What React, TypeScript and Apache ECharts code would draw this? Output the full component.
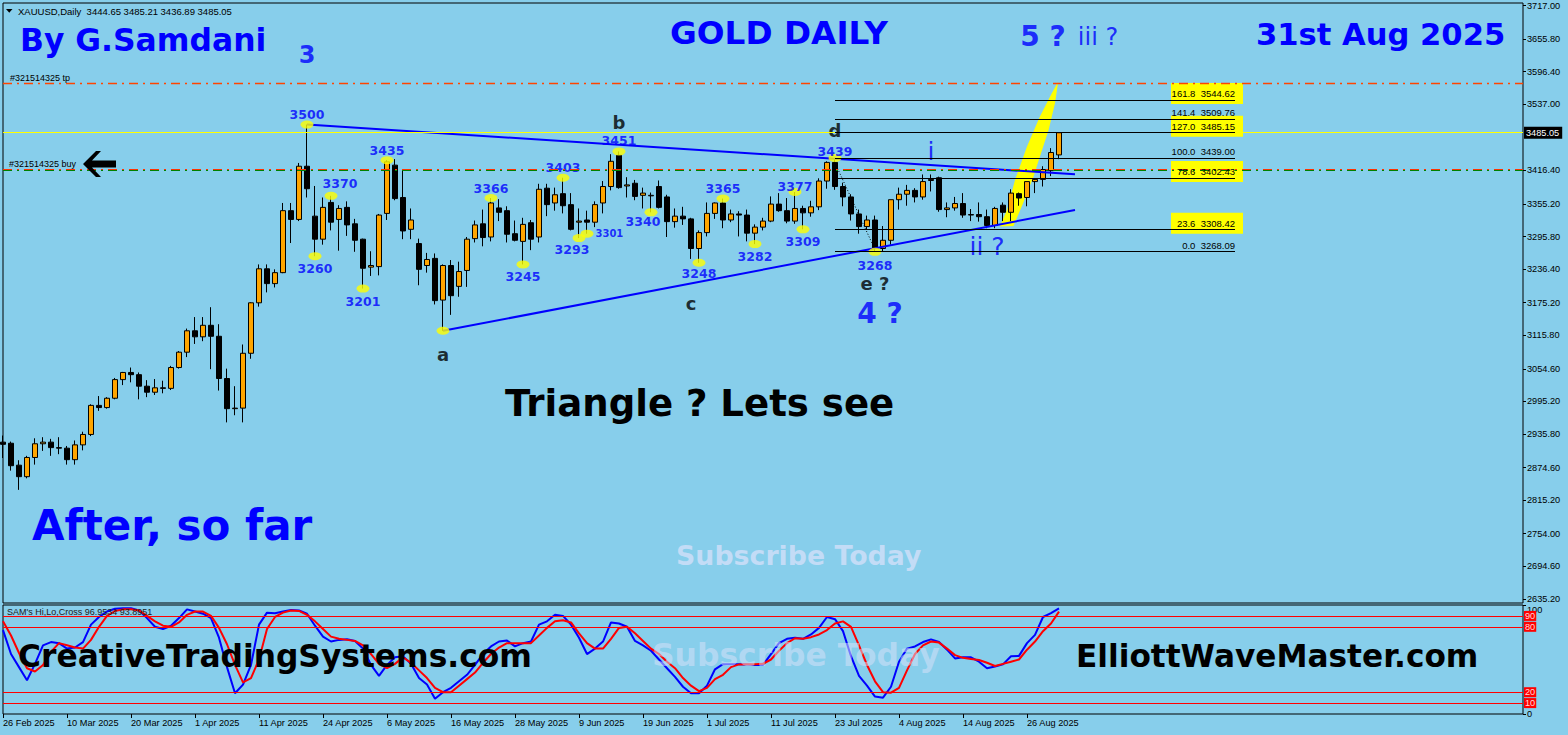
import React, { useEffect, useRef } from "react";
import * as echarts from "echarts";

// ---------- DATA ----------
const dates: string[] = [
  "26 Feb 2025","27 Feb 2025","28 Feb 2025","3 Mar 2025","4 Mar 2025","5 Mar 2025","6 Mar 2025","7 Mar 2025",
  "10 Mar 2025","11 Mar 2025","12 Mar 2025","13 Mar 2025","14 Mar 2025","17 Mar 2025","18 Mar 2025","19 Mar 2025",
  "20 Mar 2025","21 Mar 2025","24 Mar 2025","25 Mar 2025","26 Mar 2025","27 Mar 2025","28 Mar 2025","31 Mar 2025",
  "1 Apr 2025","2 Apr 2025","3 Apr 2025","4 Apr 2025","7 Apr 2025","8 Apr 2025","9 Apr 2025","10 Apr 2025",
  "11 Apr 2025","14 Apr 2025","15 Apr 2025","16 Apr 2025","17 Apr 2025","21 Apr 2025","22 Apr 2025","23 Apr 2025",
  "24 Apr 2025","25 Apr 2025","28 Apr 2025","29 Apr 2025","30 Apr 2025","1 May 2025","2 May 2025","5 May 2025",
  "6 May 2025","7 May 2025","8 May 2025","9 May 2025","12 May 2025","13 May 2025","14 May 2025","15 May 2025",
  "16 May 2025","19 May 2025","20 May 2025","21 May 2025","22 May 2025","23 May 2025","26 May 2025","27 May 2025",
  "28 May 2025","29 May 2025","30 May 2025","2 Jun 2025","3 Jun 2025","4 Jun 2025","5 Jun 2025","6 Jun 2025",
  "9 Jun 2025","10 Jun 2025","11 Jun 2025","12 Jun 2025","13 Jun 2025","16 Jun 2025","17 Jun 2025","18 Jun 2025",
  "19 Jun 2025","20 Jun 2025","23 Jun 2025","24 Jun 2025","25 Jun 2025","26 Jun 2025","27 Jun 2025","30 Jun 2025",
  "1 Jul 2025","2 Jul 2025","3 Jul 2025","4 Jul 2025","7 Jul 2025","8 Jul 2025","9 Jul 2025","10 Jul 2025",
  "11 Jul 2025","14 Jul 2025","15 Jul 2025","16 Jul 2025","17 Jul 2025","18 Jul 2025","21 Jul 2025","22 Jul 2025",
  "23 Jul 2025","24 Jul 2025","25 Jul 2025","28 Jul 2025","29 Jul 2025","30 Jul 2025","31 Jul 2025","1 Aug 2025",
  "4 Aug 2025","5 Aug 2025","6 Aug 2025","7 Aug 2025","8 Aug 2025","11 Aug 2025","12 Aug 2025","13 Aug 2025",
  "14 Aug 2025","15 Aug 2025","18 Aug 2025","19 Aug 2025","20 Aug 2025","21 Aug 2025","22 Aug 2025","25 Aug 2025",
  "26 Aug 2025","27 Aug 2025","28 Aug 2025","29 Aug 2025","1 Sep 2025",
];

// [open, high, low, close]
const candles: number[][] = [
  [2921,2933,2892,2917],[2919,2922,2869,2878],[2879,2888,2834,2858],[2858,2896,2855,2893],
  [2893,2928,2880,2918],[2918,2930,2905,2921],[2921,2927,2896,2911],[2911,2930,2899,2910],
  [2910,2914,2880,2889],[2889,2924,2880,2916],[2916,2940,2906,2935],[2935,2990,2932,2988],
  [2988,3005,2978,2984],[2984,3003,2982,3001],[3001,3038,2999,3035],[3035,3049,3025,3048],
  [3048,3057,3030,3044],[3044,3048,2999,3023],[3023,3034,3003,3012],[3012,3036,3007,3020],
  [3020,3033,3010,3019],[3019,3060,3016,3057],[3057,3087,3055,3085],[3085,3128,3076,3124],
  [3124,3149,3100,3113],[3113,3149,3105,3134],[3134,3167,3054,3114],[3114,3136,3015,3037],
  [3037,3055,2957,2982],[2982,3023,2970,2983],[2983,3099,2957,3083],[3083,3176,3073,3175],
  [3175,3245,3168,3237],[3237,3245,3194,3210],[3210,3236,3203,3230],[3230,3357,3229,3343],
  [3343,3357,3284,3327],[3327,3430,3324,3424],[3424,3500,3367,3383],[3333,3388,3260,3291],
  [3291,3367,3281,3349],[3358,3370,3307,3322],[3327,3353,3270,3347],[3349,3360,3297,3317],
  [3319,3328,3268,3289],[3291,3292,3201,3238],[3240,3269,3224,3243],[3241,3337,3225,3335],
  [3338,3435,3326,3432],[3426,3437,3362,3365],[3367,3417,3291,3306],[3309,3347,3291,3326],
  [3283,3292,3207,3236],[3243,3266,3230,3254],[3256,3265,3172,3179],[3180,3245,3124,3243],
  [3243,3253,3153,3188],[3205,3250,3186,3232],[3234,3295,3204,3291],[3292,3325,3285,3317],
  [3319,3345,3278,3294],[3295,3366,3287,3357],[3348,3364,3324,3340],[3343,3351,3285,3300],
  [3301,3325,3287,3289],[3287,3330,3245,3318],[3321,3326,3271,3291],[3295,3392,3285,3382],
  [3384,3392,3333,3354],[3357,3385,3343,3372],[3374,3403,3338,3352],[3354,3375,3307,3309],
  [3322,3347,3293,3324],[3326,3343,3301,3322],[3322,3360,3313,3354],[3357,3397,3338,3387],
  [3387,3446,3380,3433],[3444,3451,3383,3385],[3388,3404,3367,3390],[3393,3399,3362,3369],
  [3371,3385,3347,3375],[3370,3376,3340,3371],[3387,3398,3347,3349],[3368,3372,3295,3323],
  [3323,3347,3312,3333],[3333,3350,3317,3328],[3328,3330,3255,3274],[3274,3307,3248,3303],
  [3303,3358,3296,3338],[3338,3358,3328,3357],[3357,3365,3311,3326],[3326,3345,3322,3337],
  [3337,3342,3296,3335],[3335,3345,3287,3302],[3302,3318,3282,3313],[3313,3330,3307,3324],
  [3324,3369,3322,3355],[3355,3375,3341,3343],[3343,3366,3320,3324],[3324,3377,3319,3347],
  [3347,3352,3309,3339],[3339,3361,3332,3350],[3350,3402,3344,3397],[3397,3433,3383,3431],
  [3431,3439,3381,3387],[3387,3394,3351,3368],[3368,3373,3325,3337],[3337,3345,3301,3314],
  [3314,3334,3308,3326],[3326,3334,3268,3274],[3274,3315,3268,3289],[3289,3363,3281,3363],
  [3363,3385,3345,3373],[3373,3390,3352,3380],[3380,3384,3358,3368],[3368,3409,3363,3396],
  [3398,3409,3378,3400],[3403,3405,3341,3345],[3345,3358,3331,3348],[3348,3368,3343,3356],
  [3356,3375,3330,3335],[3335,3346,3324,3336],[3336,3358,3323,3332],[3332,3345,3311,3316],
  [3316,3350,3311,3347],[3353,3358,3324,3340],[3340,3382,3324,3375],[3374,3376,3352,3366],
  [3367,3396,3351,3396],[3396,3402,3375,3400],[3400,3424,3387,3418],[3416,3457,3406,3449],
  [3444.65,3485.21,3436.89,3485.05],
];

const priceTicks: number[] = [3717.0,3655.8,3596.4,3537.0,3416.4,3355.2,3295.8,3236.4,3175.2,3115.8,3054.6,2995.2,2935.8,2874.6,2815.2,2754.0,2694.6,2635.2];

const oscBlue: number[] = [
  77,55,43,31,46,63,66,65,60,61,66,82,89,94,96.5,97,97,95,88,80,78,81,88,96,94,92,88,70,43,19,27,45,82,93,92.5,94,95.5,95,92,81,71,66.5,68,68.5,67,60,45,35,45,52,
  53,46,33,27,14,20,24,30,36,45,55,62,66.5,67.4,62,65,66.5,82,85,91,90,82,70,55,60,66.5,84,83,80,67,63,58,50,42,34,25,19,19,26,41,45.7,45.7,45.7,45.5,45,45,55,65,69,70,
  69,73,79,89,87,76,53,35,26,16,15,25,48,60,62,66,68.5,66,59,51,52,52,48,42,43.5,45.5,53,53.3,65,72.6,89,92.5,96.95,
];
const oscRed: number[] = [
  85,72,56,42,39,45,57,65,63,61,60,68,80,90,94.5,96,96,95,90,85,81,80,84,91,94,94,90,79,64,45,29,33,50,78,89,93,95,94.6,91,85,78,71,69,68,67,63,55,46,42,46,
  52,47,40,33,24,20,20,26,32,38,47,55,61,65,65,65,65,72,79,85,86,84,74,65,60,60,69,79,80,74,67,60,55,48,42,33,26,21,24,32,36,43,45.5,45.7,45.7,46,50,58,65,69.5,
  69,70.5,73,77,83,85,80,63,45,30,20,19.6,24,40,55,63,66.5,65.5,60,54,51.5,50.5,49.6,47,44,46,48,50,59,66.5,76,83,93.9,
];
const oscLevels: number[] = [90, 80, 20, 10];

const bidPrice = 3485.05;
const tpPrice = 3574.8;
const buyRedPrice = 3418.0;
const buyGreenPrice = 3416.2;

const fibRatios: string[] = ["161.8","141.4","127.0","100.0","78.6","23.6","0.0"];
const fibPrices: number[] = [3544.62,3509.76,3485.15,3439.0,3402.43,3308.42,3268.09];
const fibBoxed: boolean[] = [true,false,true,false,true,true,false];
const fibFrom = 104;
const fibTo = 154;

const upperTrend: number[][] = [[38, 3500], [134, 3409.2]];
const lowerTrend: number[][] = [[55, 3124], [134, 3344.2]];
const deDotted: number[][] = [[104, 3430], [109, 3272]];

const pivotIdx: number[] =   [38,39,41,45,48,55,61,65,70,72,73,77,81,87,90,94,99,100,104,109];
const pivotPrice: number[] = [3500,3260,3370,3201,3435,3124,3366,3245,3403,3293,3301,3451,3340,3248,3365,3282,3377,3309,3439,3268];
const pivotText: string[] =  ["3500","3260","3370","3201","3435","","3366","3245","3403","3293","3301","3451","3340","3248","3365","3282","3377","3309","3439","3268"];
const pivotSide: string[] =  ["top","bottom","top","bottom","top","bottom","top","bottom","top","bottom","right","top","bottom","bottom","top","bottom","top","bottom","top","bottom"];
const pivotShiftX: number[] = [0,0,9,0,0,0,0,0,0,-7,0,0,-8,0,0,0,0,0,0,0];
const pivotShiftY: number[] = [0,0,-2,0,1,0,1,0,0,-1,0,0,-3,-2,0,0,5,0,4,1];

const waveText: string[] =  ["3","a","b","c","d","e ?","4 ?","i","ii ?","5 ?","iii ?"];
const waveIdx: number[] =   [38,55,77,86,104,109,110,116,123,130,137];
const wavePrice: number[] = [3627,3080,3503,3173,3490,3211,3156,3450,3277,3660,3660];
const waveColor: string[] = ["#0000FF","#000","#000","#000","#000","#000","#0000FF","#0000FF","#0000FF","#0000FF","#0000FF"];
const waveSize: number[] =  [24,18,18,18,18,18,28,25,25,28,24];
const waveBold: boolean[] = [true,true,true,true,true,true,true,false,false,true,false];
const waveShift: number[] = [0,0,0,0,0,0,-3,0,0,0,-1];

// yellow fan drawn on the last leg: [candle index, price]
const fanShape: number[][] = [
  [131.9,3578],[131.5,3539],[130.7,3490],[129.6,3441],[128.8,3405],[127.5,3356],[126.3,3315],
  [124.6,3314],[125.5,3344],[126.5,3399],[128,3460],[129.6,3514],[131.1,3557],
];

// ---------- LAYOUT ----------
const N_CAT = 191;
const G_LEFT = 3, G_TOP = 3, G_W = 1520, G_H = 600;
const Y_MIN = 2627.7, Y_MAX = 3721.6;
const px = (i: number) => G_LEFT + (i * G_W) / (N_CAT - 1);
const py = (p: number) => G_TOP + ((Y_MAX - p) / (Y_MAX - Y_MIN)) * G_H;

const BG = "#87CEEB";
const BLUE = "#0000FF";
const SMALL = "Liberation Sans";
const BIG = "DejaVu Sans";

function txt(text: string, x: number, y: number, size: number, color: string, bold = true, family = BIG, align = "left") {
  return {
    type: "text",
    x,
    y,
    z: 100,
    silent: true,
    style: {
      text,
      fill: color,
      fontSize: size,
      fontWeight: bold ? "bold" : "normal",
      fontFamily: family,
      align,
      verticalAlign: "middle",
      textAlign: align,
      textVerticalAlign: "middle",
    },
  };
}

function buildOption() {
  const cats = dates.concat(Array(N_CAT - dates.length).fill(""));
  const ecCandles = candles.map((c) => [c[0], c[3], c[2], c[1]]);

  const fibLines = fibPrices.map((p) => [
    { coord: [fibFrom, p], lineStyle: { color: "#000", width: 1, type: "solid" }, label: { show: false } },
    { coord: [fibTo, p] },
  ]);

  const pivotData = pivotIdx.map((i, k) => ({
    name: pivotText[k],
    value: [i, pivotPrice[k]],
    label: {
      position: pivotSide[k],
      offset: [pivotShiftX[k], pivotShiftY[k]],
      fontSize: pivotSide[k] === "right" ? 10 : 12.5,
      distance: pivotSide[k] === "right" ? 2 : pivotSide[k] === "top" ? 0 : 2,
    },
  }));

  const waveData = waveText.map((t, k) => ({
    name: t,
    value: [waveIdx[k], wavePrice[k]],
    label: {
      color: waveColor[k],
      fontSize: waveSize[k],
      fontWeight: waveBold[k] ? "bold" : "normal",
      offset: [waveShift[k], 0],
    },
  }));

  const graphics: any[] = [];
  fibPrices.forEach((p, k) => {
    const xe = px(fibTo);
    const y = py(p);
    if (fibBoxed[k]) {
      graphics.push({
        type: "rect",
        z: 1,
        silent: true,
        shape: { x: xe - 64, y: y - 17, width: 72, height: 21 },
        style: { fill: "#FFFF00" },
      });
    }
    graphics.push(txt(`${fibRatios[k]}  ${p.toFixed(2)}`, xe, y - 6.5, 9.5, "#000", false, SMALL, "right"));
  });
  graphics.push({
    type: "polygon",
    z: 1,
    silent: true,
    shape: { points: fanShape.map(([i, p]) => [px(i), py(p)]) },
    style: { fill: "#FFFF00" },
  });
  graphics.push({ type: "polygon", z: 100, silent: true, shape: { points: [[6, 9], [12.5, 9], [9.25, 12.8]] }, style: { fill: "#000" } });
  graphics.push(txt("XAUUSD,Daily  3444.65 3485.21 3436.89 3485.05", 18, 11, 9.5, "#000", false, SMALL));
  graphics.push(txt("#321514325 tp", 10, 78, 9, "#000", false, SMALL));
  graphics.push(txt("#321514325 buy", 9, 164, 9, "#000", false, SMALL));
  graphics.push({
    type: "polygon",
    z: 100,
    silent: true,
    shape: { points: [[83, 164], [96, 151], [101, 151], [92, 160.5], [116, 160.5], [116, 167.5], [92, 167.5], [101, 177], [96, 177]] },
    style: { fill: "#000" },
  });
  graphics.push(txt("By G.Samdani", 20, 40, 31.4, BLUE));
  graphics.push(txt("GOLD DAILY", 670, 33, 32.7, BLUE));
  graphics.push(txt("31st Aug 2025", 1256, 34, 30.6, BLUE));
  graphics.push(txt("After, so far", 32, 525, 42, BLUE));
  graphics.push(txt("Triangle ? Lets see", 505, 403, 37.1, "#000"));
  graphics.push(txt("Subscribe Today", 676, 555, 26.8, "rgba(215,225,250,0.75)"));
  graphics.push(txt("Subscribe Today", 652, 655, 31.4, "rgba(215,225,250,0.55)"));
  graphics.push(txt("CreativeTradingSystems.com", 18, 656, 31.3, "#000"));
  graphics.push(txt("ElliottWaveMaster.com", 1076, 656, 31.2, "#000"));
  graphics.push(txt("SAM's Hi,Lo,Cross 96.9534 93.8951", 7, 612, 9, "#202020", false, SMALL));

  const ellipse = "path://M0,5A5,5 0 1,1 10,5A5,5 0 1,1 0,5Z";
  const dashDot = [9, 5, 2, 5];

  return {
    animation: false,
    backgroundColor: BG,
    grid: [
      { left: G_LEFT, top: G_TOP, width: G_W, height: G_H, show: true, borderColor: "#000", borderWidth: 1, backgroundColor: "transparent" },
      { left: G_LEFT, top: 605, width: G_W, height: 109, show: true, borderColor: "#000", borderWidth: 1, backgroundColor: "transparent" },
    ],
    xAxis: [
      {
        type: "category", gridIndex: 0, data: cats, boundaryGap: false,
        axisLine: { show: false }, axisTick: { show: false }, axisLabel: { show: false }, splitLine: { show: false },
      },
      {
        type: "category", gridIndex: 1, data: cats, boundaryGap: false,
        axisLine: { show: false },
        axisTick: { show: true, length: 4, lineStyle: { color: "#000" }, interval: (i: number, v: string) => i % 8 === 0 && v !== "" },
        axisLabel: {
          show: true, interval: (i: number, v: string) => i % 8 === 0 && v !== "",
          align: "left", color: "#000", fontSize: 9.2, fontFamily: SMALL, margin: 4,
        },
        splitLine: { show: false },
      },
    ],
    yAxis: [
      {
        type: "value", gridIndex: 0, position: "right", min: Y_MIN, max: Y_MAX, scale: true,
        axisLine: { show: false },
        axisTick: { show: true, length: 3, lineStyle: { color: "#000" }, customValues: priceTicks },
        axisLabel: {
          show: true, customValues: priceTicks, color: "#000", fontSize: 9.2, fontFamily: SMALL, margin: 4,
          formatter: (v: number) => v.toFixed(2),
        },
        splitLine: { show: false },
      },
      {
        type: "value", gridIndex: 1, position: "right", min: 0, max: 100,
        axisLine: { show: false },
        axisTick: { show: true, length: 3, lineStyle: { color: "#000" }, customValues: [0, 100] },
        axisLabel: {
          show: true, customValues: [0, 100], color: "#000", fontSize: 9.2, fontFamily: SMALL, margin: 4,
          verticalAlignMaxLabel: "top", verticalAlignMinLabel: "middle",
          formatter: (v: number) => String(v),
        },
        splitLine: { show: false },
      },
    ],
    series: [
      {
        type: "candlestick",
        name: "XAUUSD",
        xAxisIndex: 0, yAxisIndex: 0,
        data: ecCandles,
        barWidth: 5,
        itemStyle: { color: "#FFA500", color0: "#000000", borderColor: "#000", borderColor0: "#000", borderWidth: 1 },
        markLine: {
          silent: true, symbol: ["none", "none"], animation: false,
          data: [
            {
              yAxis: bidPrice,
              lineStyle: { color: "#FFFF00", width: 1, type: "solid" },
              label: {
                show: true, position: "end", distance: 1, formatter: bidPrice.toFixed(2),
                backgroundColor: "#000", color: "#fff", fontSize: 9.2, fontFamily: SMALL, padding: [2, 3, 1, 2],
              },
            },
            { yAxis: tpPrice, lineStyle: { color: "#FF4500", width: 1.3, type: dashDot, opacity: 1 }, label: { show: false } },
            { yAxis: buyRedPrice, lineStyle: { color: "#FF3300", width: 1.2, type: dashDot, opacity: 1 }, label: { show: false } },
            { yAxis: buyGreenPrice, lineStyle: { color: "#008000", width: 1.2, type: dashDot, opacity: 1 }, label: { show: false } },
            ...fibLines,
          ],
        },
      },
      {
        type: "line", name: "upper", xAxisIndex: 0, yAxisIndex: 0, data: upperTrend,
        showSymbol: false, symbol: "none", lineStyle: { color: BLUE, width: 2 }, silent: true,
      },
      {
        type: "line", name: "lower", xAxisIndex: 0, yAxisIndex: 0, data: lowerTrend,
        showSymbol: false, symbol: "none", lineStyle: { color: BLUE, width: 2 }, silent: true,
      },
      {
        type: "line", name: "de", xAxisIndex: 0, yAxisIndex: 0, data: deDotted,
        showSymbol: false, symbol: "none", lineStyle: { color: "#000", width: 1, type: [1, 2] }, silent: true,
      },
      {
        type: "scatter", name: "pivots", xAxisIndex: 0, yAxisIndex: 0, data: pivotData,
        symbol: ellipse, symbolSize: [13, 8], itemStyle: { color: "#FFFF00" }, silent: true,
        label: { show: true, formatter: "{b}", color: BLUE, fontFamily: BIG, fontWeight: "bold", fontSize: 12.5 },
        z: 3,
      },
      {
        type: "scatter", name: "waves", xAxisIndex: 0, yAxisIndex: 0, data: waveData,
        symbolSize: 1, itemStyle: { color: "rgba(0,0,0,0)" }, silent: true,
        label: { show: true, position: "inside", formatter: "{b}", fontFamily: BIG },
        z: 4,
      },
      {
        type: "line", name: "oscBlue", xAxisIndex: 1, yAxisIndex: 1, data: oscBlue,
        showSymbol: false, symbol: "none", lineStyle: { color: BLUE, width: 2 }, silent: true,
        markLine: {
          silent: true, symbol: ["none", "none"], animation: false,
          data: oscLevels.map((v) => ({
            yAxis: v,
            lineStyle: { color: "#FF0000", width: 1, type: "solid" },
            label: {
              show: true, position: "end", distance: 1, formatter: String(v),
              backgroundColor: "#FF0000", color: "#FFD8D8", fontSize: 9.2, fontFamily: SMALL, padding: [1, 1, 0, 1],
            },
          })),
        },
      },
      {
        type: "line", name: "oscRed", xAxisIndex: 1, yAxisIndex: 1, data: oscRed,
        showSymbol: false, symbol: "none", lineStyle: { color: "#FF0000", width: 2 }, silent: true,
      },
    ],
    graphic: graphics,
  };
}

export default function App() {
  const ref = useRef<HTMLDivElement>(null);
  useEffect(() => {
    if (!ref.current) return;
    const chart = echarts.init(ref.current, undefined, { renderer: "svg" });
    chart.setOption(buildOption() as any);
    return () => chart.dispose();
  }, []);
  return <div ref={ref} style={{ position: "fixed", left: 0, top: 0, width: 1568, height: 735 }} />;
}
